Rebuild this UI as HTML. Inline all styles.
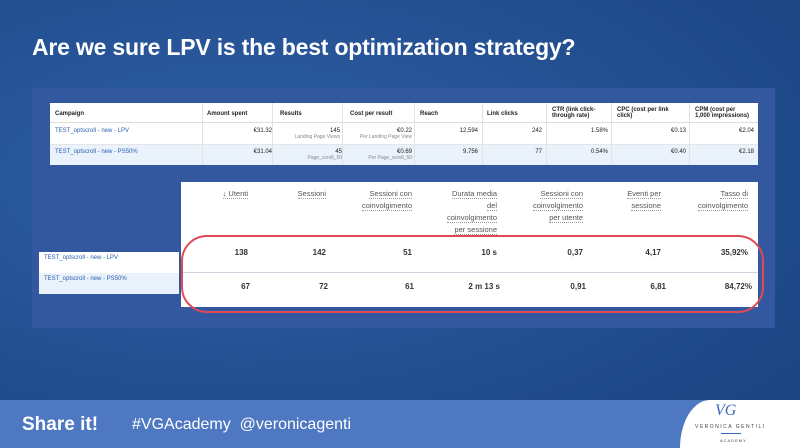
<!DOCTYPE html>
<html><head><meta charset="utf-8"><style>
*{margin:0;padding:0;box-sizing:border-box}
body{width:800px;height:448px;overflow:hidden;font-family:"Liberation Sans",sans-serif;position:relative;background:radial-gradient(ellipse at 30% 40%,#2f60a6,#1f4a8a 70%,#1b4380)}
.abs{position:absolute}
#title{left:32px;top:34px;color:#fff;font-size:23px;font-weight:bold;letter-spacing:-0.2px}
#panel{left:32px;top:88px;width:743px;height:240px;background:#3458a0}
#t1{left:50px;top:103px;width:708px;height:62px;background:#fff;font-size:6px;color:#222}
.c{position:absolute;border-right:1px solid #e2e2e2;height:100%;}
.r2{background:#eaf2fc}
#t2{left:181px;top:182px;width:577px;height:125px;background:#fff;color:#333}
.h{position:absolute;text-align:right;font-size:7.5px;line-height:12px;color:#555}
.h span{border-bottom:1px dotted #999}
.v{position:absolute;text-align:right;font-size:8px;font-weight:bold;color:#333}
#foot{left:0;top:400px;width:800px;height:48px;background:#4e78c2}
</style></head><body>
<div class="abs" id="title">Are we sure LPV is the best optimization strategy?</div>
<div class="abs" id="panel"></div>
<div class="abs" id="t1">
 <div class="abs" style="left:0;top:20px;width:708px;height:22px;border-bottom:1px solid #e5e5e5"></div>
 <div class="abs r2" style="left:0;top:42px;width:708px;height:20px"></div>
 <div class="abs" style="left:0;top:0;width:708px;height:20px;border-bottom:1px solid #ddd"></div>
 <div class="abs" style="left:5px;top:8px;font-weight:bold">Campaign</div>
 <div class="abs" style="left:157px;top:8px;font-weight:bold">Amount spent</div>
 <div class="abs" style="left:230px;top:8px;font-weight:bold">Results</div>
 <div class="abs" style="left:300px;top:8px;font-weight:bold">Cost per result</div>
 <div class="abs" style="left:370px;top:8px;font-weight:bold">Reach</div>
 <div class="abs" style="left:437px;top:8px;font-weight:bold">Link clicks</div>
 <div class="abs" style="left:502px;top:4px;font-weight:bold">CTR (link click-<br>through rate)</div>
 <div class="abs" style="left:567px;top:4px;font-weight:bold">CPC (cost per link<br>click)</div>
 <div class="abs" style="left:645px;top:4px;font-weight:bold">CPM (cost per<br>1,000 impressions)</div>
 <div class="abs" style="left:5px;top:25px;color:#2a5db0">TEST_optscroll - new - LPV</div>
 <div class="abs" style="left:5px;top:46px;color:#2a5db0">TEST_optscroll - new - PS50%</div>
 <div class="abs" style="right:486px;top:25px">€31.32</div>
 <div class="abs" style="right:486px;top:46px">€31.04</div>
 <div class="abs" style="right:418px;top:25px;text-align:right">145<br><span style="color:#888;font-size:5px">Landing Page Views</span></div>
 <div class="abs" style="right:416px;top:46px;text-align:right">45<br><span style="color:#888;font-size:5px">Page_scroll_50</span></div>
 <div class="abs" style="right:346px;top:25px;text-align:right">€0.22<br><span style="color:#888;font-size:5px">Per Landing Page View</span></div>
 <div class="abs" style="right:346px;top:46px;text-align:right">€0.69<br><span style="color:#888;font-size:5px">Per Page_scroll_50</span></div>
 <div class="abs" style="right:280px;top:25px">12,594</div><div class="abs" style="right:280px;top:46px">9,756</div>
 <div class="abs" style="right:216px;top:25px">242</div><div class="abs" style="right:216px;top:46px">77</div>
 <div class="abs" style="right:150px;top:25px">1.58%</div><div class="abs" style="right:150px;top:46px">0.54%</div>
 <div class="abs" style="right:72px;top:25px">€0.13</div><div class="abs" style="right:72px;top:46px">€0.40</div>
 <div class="abs" style="right:4px;top:25px">€2.04</div><div class="abs" style="right:4px;top:46px">€2.18</div>
 <div class="c" style="left:0;width:153px"></div><div class="c" style="left:153px;width:70px"></div><div class="c" style="left:223px;width:70px"></div><div class="c" style="left:293px;width:72px"></div><div class="c" style="left:365px;width:68px"></div><div class="c" style="left:433px;width:64px"></div><div class="c" style="left:497px;width:65px"></div><div class="c" style="left:562px;width:78px"></div>
</div>
<div class="abs" style="left:39px;top:252px;width:140px;height:42px;background:#fff;font-size:6px;color:#2a5db0">
 <div style="padding:3px 5px;height:21px">TEST_optscroll - new - LPV</div>
 <div style="padding:3px 5px;height:21px;background:#eaf2fc">TEST_optscroll - new - PS50%</div>
</div>
<div class="abs" id="t2">
 <div class="h" style="right:510px;top:6px"><span>↓ Utenti</span></div>
 <div class="h" style="right:432px;top:6px"><span>Sessioni</span></div>
 <div class="h" style="right:346px;top:6px"><span>Sessioni con</span><br><span>coinvolgimento</span></div>
 <div class="h" style="right:261px;top:6px"><span>Durata media</span><br><span>del</span><br><span>coinvolgimento</span><br><span>per sessione</span></div>
 <div class="h" style="right:175px;top:6px"><span>Sessioni con</span><br><span>coinvolgimento</span><br><span>per utente</span></div>
 <div class="h" style="right:97px;top:6px"><span>Eventi per</span><br><span>sessione</span></div>
 <div class="h" style="right:10px;top:6px"><span>Tasso di</span><br><span>coinvolgimento</span></div>
 <div class="abs" style="left:0;top:90px;width:577px;border-top:1px solid #cdd5e0"></div>
 <div class="v" style="right:510px;top:66px">138</div><div class="v" style="right:508px;top:100px">67</div>
 <div class="v" style="right:432px;top:66px">142</div><div class="v" style="right:430px;top:100px">72</div>
 <div class="v" style="right:346px;top:66px">51</div><div class="v" style="right:344px;top:100px">61</div>
 <div class="v" style="right:261px;top:66px">10 s</div><div class="v" style="right:258px;top:100px">2 m 13 s</div>
 <div class="v" style="right:175px;top:66px">0,37</div><div class="v" style="right:172px;top:100px">0,91</div>
 <div class="v" style="right:97px;top:66px">4,17</div><div class="v" style="right:92px;top:100px">6,81</div>
 <div class="v" style="right:10px;top:66px">35,92%</div><div class="v" style="right:6px;top:100px">84,72%</div>
</div>
<div class="abs" style="left:181px;top:235px;width:583px;height:78px;border:2px solid #e04a55;border-radius:26px"></div>
<div class="abs" id="foot">
 <div class="abs" style="left:22px;top:14px;color:#fff;font-size:19px;font-weight:bold">Share it!</div>
 <div class="abs" style="left:132px;top:16px;color:#fff;font-size:16px">#VGAcademy&nbsp;&nbsp;@veronicagenti</div>
 <div class="abs" style="left:680px;top:0;width:130px;height:48px;background:#fff;border-radius:30px 0 0 0/48px 0 0 0">
  <div class="abs" style="left:35px;top:2px;font-size:16px;font-style:italic;color:#3a6ab8;font-family:'Liberation Serif',serif">VG</div>
  <div class="abs" style="left:15px;top:24px;font-size:5px;letter-spacing:1.5px;color:#444">VERONICA GENTILI</div>
  <div class="abs" style="left:41px;top:33px;width:20px;border-top:1px solid #3a6ab8"></div>
  <div class="abs" style="left:40px;top:38px;font-size:4px;letter-spacing:1px;color:#444">ACADEMY</div>
 </div>
</div>
</body></html>
